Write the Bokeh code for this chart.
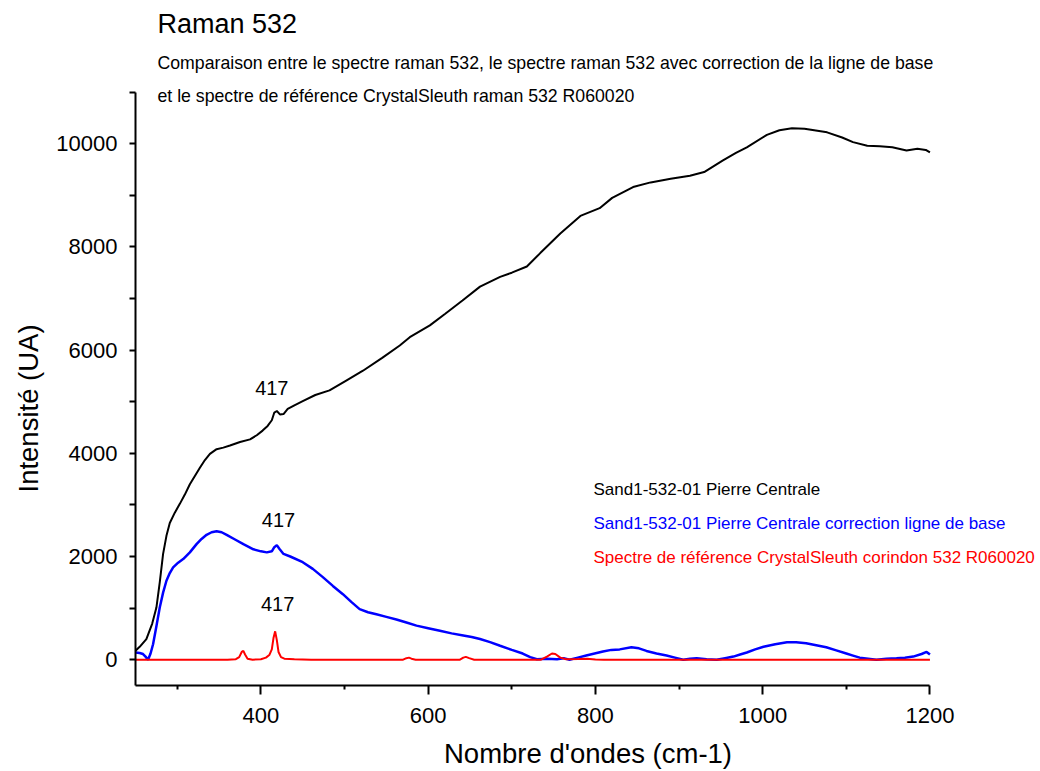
import math
from bokeh.plotting import figure
from bokeh.models import FixedTicker, Label, Title
from bokeh.embed import file_html
from bokeh.resources import INLINE

FONT = "Liberation Sans"

# ---- data ----
black_x = [250, 255, 263, 270, 275, 279, 283, 287, 291, 297, 303, 309, 315, 321, 327, 333, 339, 347,
           355, 363, 375, 387, 395, 402, 408, 413, 416, 419, 423, 427, 432, 440, 450, 465, 482, 502,
           522, 545, 566, 578, 602, 620, 641, 662, 686, 700, 718, 734, 758, 782, 805, 820, 845, 866,
           890, 913, 930, 952, 968, 981, 1005, 1020, 1035, 1050, 1077, 1095, 1108, 1125, 1140, 1155,
           1172, 1185, 1195, 1200]
black_y = [175, 250, 400, 700, 1010, 1500, 2050, 2400, 2650, 2850, 3020, 3200, 3400, 3560, 3720, 3870,
           3990, 4080, 4110, 4150, 4220, 4270, 4350, 4440, 4530, 4640, 4790, 4820, 4750, 4760, 4860,
           4930, 5010, 5130, 5220, 5410, 5600, 5850, 6090, 6250, 6480, 6700, 6960, 7230, 7420, 7500,
           7620, 7880, 8260, 8600, 8750, 8950, 9160, 9250, 9320, 9380, 9450, 9670, 9820, 9930, 10170,
           10260, 10300, 10290, 10220, 10120, 10030, 9960, 9950, 9930, 9870, 9900, 9880, 9830]

blue_x = [250, 255, 259, 262, 265, 268, 271, 275, 279, 283, 287, 291, 295, 301, 307, 315, 323, 329,
          335, 341, 347, 353, 359, 369, 379, 391, 400, 407, 413, 416, 419, 422, 427, 435, 450, 462,
          474, 486, 498, 508, 518, 528, 538, 550, 562, 574, 586, 600, 614, 628, 642, 652, 662, 674,
          686, 700, 713, 722, 730, 742, 754, 762, 769, 779, 789, 799, 809, 819, 829, 843, 852, 861,
          873, 885, 895, 905, 913, 921, 933, 945, 955, 965, 973, 981, 991, 1001, 1015, 1029, 1040,
          1052, 1064, 1076, 1088, 1100, 1108, 1116, 1126, 1136, 1148, 1160, 1170, 1180, 1190, 1196, 1200]
blue_y = [140, 130, 110, 60, 0, 120, 300, 650, 1010, 1300, 1530, 1680, 1790, 1880, 1950, 2080, 2240,
          2340, 2420, 2470, 2490, 2470, 2420, 2330, 2240, 2140, 2100, 2080, 2100, 2180, 2220, 2150,
          2050, 2000, 1890, 1760, 1600, 1430, 1270, 1120, 980, 920, 880, 830, 780, 720, 660, 610, 560,
          510, 470, 440, 400, 340, 270, 190, 120, 50, 10, 20, 10, 30, 0, 40, 80, 120, 160, 190, 200,
          240, 220, 170, 120, 80, 40, 0, 20, 30, 10, 0, 30, 60, 100, 140, 200, 250, 300, 340, 340,
          320, 280, 240, 180, 120, 80, 40, 20, 0, 20, 30, 40, 60, 110, 150, 100]

red_x = [250, 360, 370, 374, 377, 379, 381, 384, 390, 400, 406, 410, 413, 415, 417, 419, 421, 424,
         428, 440, 460, 570, 574, 577, 580, 585, 638, 642, 645, 649, 655, 735, 742, 748, 752, 758,
         765, 780, 790, 800, 810, 1200]
red_y = [0, 0, 10, 50, 150, 170, 100, 20, 0, 10, 40, 90, 200, 420, 550, 380, 150, 50, 20, 10, 0, 0,
         30, 40, 20, 0, 0, 40, 55, 30, 0, 0, 60, 120, 110, 40, 10, 15, 20, 5, 0, 0]

series_names = ["Sand1-532-01 Pierre Centrale",
                "Sand1-532-01 Pierre Centrale correction ligne de base",
                "Spectre de référence CrystalSleuth corindon 532 R060020"]
series_colors = ["#000000", "#0000FF", "#FF0000"]

peak_label = "417"
peak_label_x = [413, 421, 420]
peak_label_y = [5270, 2700, 1070]

x_major = [400, 600, 800, 1000, 1200]
x_minor = [300, 500, 700, 900, 1100]
y_major = [0, 2000, 4000, 6000, 8000, 10000]
y_minor = [1000, 3000, 5000, 7000, 9000, 11000]
x_axis_span = (250, 1200)
y_axis_span = (-500, 11000)

title_text = "Raman 532"
subtitle_lines = ["Comparaison entre le spectre raman 532, le spectre raman 532 avec correction de la ligne de base",
                  "et le spectre de référence CrystalSleuth raman 532 R060020"]
x_label = "Nombre d'ondes (cm-1)"
y_label = "Intensité (UA)"

# ---- figure ----
# The frame extends to the right and top edges so that the title and the legend texts
# (which sit outside the axes' span) are not clipped; the axes are bounded to their spans.
p = figure(width=1040, height=771, x_range=(250, 1332.2), y_range=(-500, 12775),
           output_backend="svg", toolbar_location=None, title=None,
           min_border_left=135, min_border_right=0, min_border_top=0, min_border_bottom=86)
p.xgrid.visible = False
p.ygrid.visible = False
p.outline_line_color = None
p.background_fill_color = "white"
p.border_fill_color = "white"

for ax in (p.xaxis[0], p.yaxis[0]):
    ax.axis_line_width = 2
    ax.axis_line_color = "black"
    ax.major_tick_line_width = 2
    ax.minor_tick_line_width = 2
    ax.major_tick_line_color = "black"
    ax.minor_tick_line_color = "black"
    ax.major_tick_in = 0
    ax.minor_tick_in = 0
    ax.major_label_text_font = FONT
    ax.major_label_text_font_size = "22px"
    ax.major_label_text_color = "black"
    ax.axis_label_text_font = FONT
    ax.axis_label_text_font_size = "27.5px"
    ax.axis_label_text_font_style = "normal"
    ax.axis_label_text_color = "black"

p.xaxis[0].ticker = FixedTicker(ticks=x_major, minor_ticks=x_minor)
p.xaxis[0].bounds = x_axis_span
p.xaxis[0].major_tick_out = 9
p.xaxis[0].minor_tick_out = 4
p.xaxis[0].major_label_standoff = 13
p.xaxis[0].axis_label = x_label
p.xaxis[0].axis_label_standoff = 12

p.yaxis[0].ticker = FixedTicker(ticks=y_major, minor_ticks=y_minor)
p.yaxis[0].bounds = y_axis_span
p.yaxis[0].major_tick_out = 6
p.yaxis[0].minor_tick_out = 6
p.yaxis[0].major_label_standoff = 12

# y-axis title as a side title, so that it can sit lower than the frame's centre
ytitle = Title(text=y_label, align="left", offset=193, standoff=20,
               text_font=FONT, text_font_size="27.5px", text_font_style="normal",
               text_color="black")
p.add_layout(ytitle, "left")

xs = [black_x, blue_x, red_x]
ys = [black_y, blue_y, red_y]
widths = [2, 2.5, 2]
for x, y, c, w in zip(xs, ys, series_colors, widths):
    p.line(x=x, y=y, line_color=c, line_width=w)

for lx, ly in zip(peak_label_x, peak_label_y):
    p.add_layout(Label(x=lx, y=ly, text=peak_label, text_font=FONT, text_font_size="20px",
                       text_align="center", text_baseline="middle", text_color="black"))

# legend (coloured text only)
for i, (name, c) in enumerate(zip(series_names, series_colors)):
    p.add_layout(Label(x=458, y=196 - 34 * i, x_units="screen", y_units="screen", text=name,
                       text_font=FONT, text_font_size="17px", text_color=c,
                       text_align="left", text_baseline="middle"))

# title and subtitles
p.add_layout(Label(x=22, y=685 - 23, x_units="screen", y_units="screen", text=title_text,
                   text_font=FONT, text_font_size="27px", text_color="black",
                   text_align="left", text_baseline="middle"))
for i, line in enumerate(subtitle_lines):
    p.add_layout(Label(x=22, y=685 - 62 - 33 * i, x_units="screen", y_units="screen", text=line,
                       text_font=FONT, text_font_size="17.7px", text_color="black",
                       text_align="left", text_baseline="middle"))

open("out.html", "w").write(file_html(p, INLINE))
